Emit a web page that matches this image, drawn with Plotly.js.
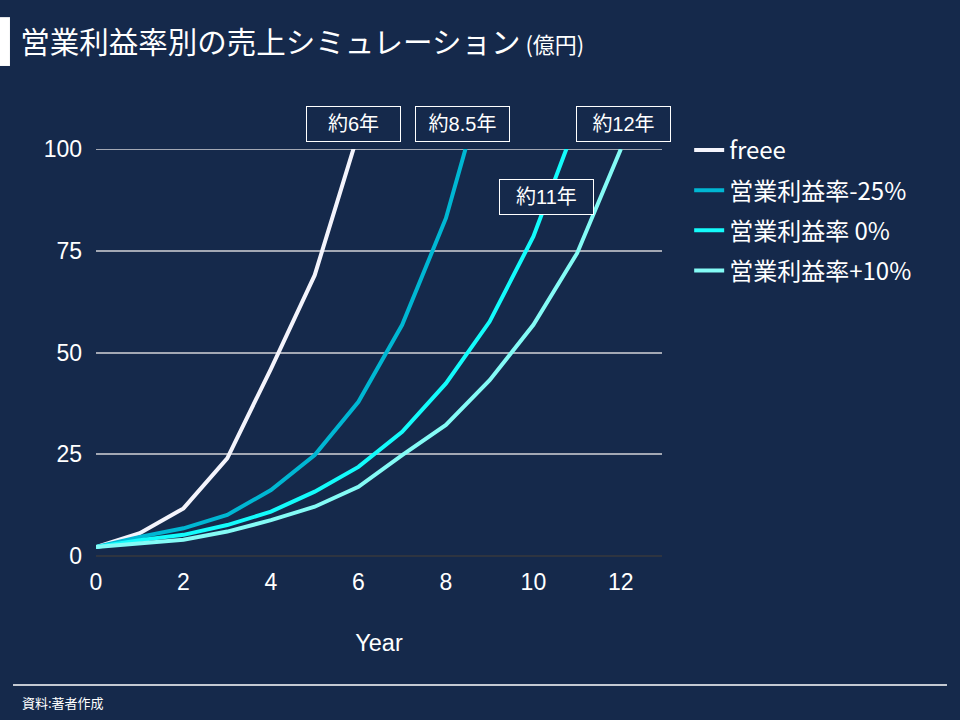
<!DOCTYPE html>
<html>
<head>
<meta charset="utf-8">
<script src="https://cdn.plot.ly/plotly-3.0.1.min.js"></script>
<style>
  html, body { margin: 0; padding: 0; background: #15294b; }
  #chart { width: 960px; height: 720px; }
</style>
</head>
<body>
<div id="chart"></div>
<script>
// values (億円), clipped at 100 by the axis range
const seriesNames = ['freee', '営業利益率-25%', '営業利益率 0%', '営業利益率+10%'];
const seriesColors = ['#f4f4fc', '#00b7d3', '#14fbfb', '#84fbf6'];

const yearsFreee = [0, 1, 2, 3, 4, 5, 6];
const salesFreee = [2.2, 5.6, 11.7, 24, 46, 69, 104];

const yearsM25 = [0, 1, 2, 3, 4, 5, 6, 7, 8, 9];
const salesM25 = [2.2, 4.7, 6.8, 10.1, 16.2, 24.8, 37.9, 56.8, 83, 121];

const yearsZero = [0, 1, 2, 3, 4, 5, 6, 7, 8, 9, 10, 11];
const salesZero = [2.2, 3.9, 5.2, 7.6, 10.9, 15.8, 21.9, 30.5, 42.4, 57.6, 78.5, 107];

const yearsP10 = [0, 1, 2, 3, 4, 5, 6, 7, 8, 9, 10, 11, 12];
const salesP10 = [2.2, 3.0, 4.0, 6.0, 8.8, 12.1, 17, 24.8, 32.2, 43.2, 56.8, 74.4, 100];

const yTicks = [0, 25, 50, 75, 100];
const xTicks = [0, 2, 4, 6, 8, 10, 12];

// callout boxes (text only, placed on the paper)
const calloutText = ['約6年', '約8.5年', '約11年', '約12年'];

const bg = '#15294b';
const latinFont = '"Liberation Sans", "Noto Sans CJK JP", sans-serif';
const jpFont = '"Noto Sans CJK JP", sans-serif';

const xs = [yearsFreee, yearsM25, yearsZero, yearsP10];
const ys = [salesFreee, salesM25, salesZero, salesP10];

let data = [];
for (let i = 0; i < seriesNames.length; i++) {
    data.push({
        x: xs[i],
        y: ys[i],
        name: seriesNames[i],
        legendgroup: 'g' + i,
        type: 'scatter',
        mode: 'lines',
        line: {color: seriesColors[i], width: 4},
        hoverinfo: 'skip'
    });
}

// where the boxes go, in paper units
const boxPos = [[0.4541, 1.0614], [0.6484, 1.0614], [0.7951, 0.882], [0.9311, 1.0614]];

let annotations = [];
for (let i = 0; i < calloutText.length; i++) {
    annotations.push({
        x: boxPos[i][0], y: boxPos[i][1], xref: 'paper', yref: 'paper',
        xanchor: 'center', yanchor: 'middle',
        text: calloutText[i],
        showarrow: false,
        font: {family: latinFont, size: 20, color: '#ffffff'},
        bgcolor: bg,
        bordercolor: '#ffffff',
        borderwidth: 1,
        width: 91,
        height: 32,
        borderpad: 1
    });
}

// footer note
annotations.push({
    x: -0.134, y: -0.361, xref: 'paper', yref: 'paper',
    xanchor: 'left', yanchor: 'middle',
    text: '資料:著者作成',
    showarrow: false,
    font: {family: jpFont, size: 13, color: '#ffffff'}
});

const layout = {
    width: 960,
    height: 720,
    paper_bgcolor: bg,
    plot_bgcolor: bg,
    margin: {l: 96, r: 298, t: 149, b: 164},
    title: {
        text: '営業利益率別の売上シミュレーション<span style="font-size:22px"> (億円)</span>',
        font: {family: jpFont, size: 29.5, color: '#ffffff'},
        x: 0.021, xanchor: 'left', xref: 'container',
        y: 0.941, yanchor: 'middle', yref: 'container'
    },
    xaxis: {
        range: [0, 12.94],
        tickvals: xTicks,
        showgrid: false,
        zeroline: false,
        showline: false,
        ticks: '',
        ticklabelstandoff: 10,
        tickfont: {family: latinFont, size: 23, color: '#ffffff'},
        title: {text: 'Year', font: {family: latinFont, size: 23.5, color: '#ffffff'}, standoff: 40},
        fixedrange: true
    },
    yaxis: {
        range: [0, 100],
        tickvals: yTicks,
        showgrid: true,
        gridcolor: '#a3a8b4',
        gridwidth: 2,
        zeroline: true,
        zerolinecolor: '#2e3440',
        zerolinewidth: 2,
        showline: false,
        ticks: '',
        ticklabelstandoff: 13,
        tickfont: {family: latinFont, size: 23, color: '#ffffff'},
        fixedrange: true
    },
    legend: {
        x: 1.048, y: 1.052, xanchor: 'left', yanchor: 'top',
        font: {family: jpFont, size: 24, color: '#ffffff'},
        bgcolor: 'rgba(0,0,0,0)',
        tracegroupgap: 6,
        itemwidth: 30
    },
    shapes: [
        // gridline at the top of the range (plotly leaves it out)
        {type: 'line', xref: 'paper', yref: 'y', layer: 'below',
         x0: 0, x1: 1, y0: 100, y1: 100,
         line: {color: '#a3a8b4', width: 2}},
        // white marker bar left of the title
        {type: 'rect', xref: 'paper', yref: 'paper',
         x0: -0.1696, x1: -0.152, y0: 1.204, y1: 1.324,
         fillcolor: '#ffffff', line: {width: 0}},
        // footer rule
        {type: 'line', xref: 'paper', yref: 'paper',
         x0: -0.1466, x1: 1.5035, y0: -0.317, y1: -0.317,
         line: {color: '#ffffff', width: 1.5}}
    ],
    annotations: annotations,
    showlegend: true
};

Plotly.newPlot('chart', data, layout, {displayModeBar: false, staticPlot: true});
</script>
</body>
</html>
